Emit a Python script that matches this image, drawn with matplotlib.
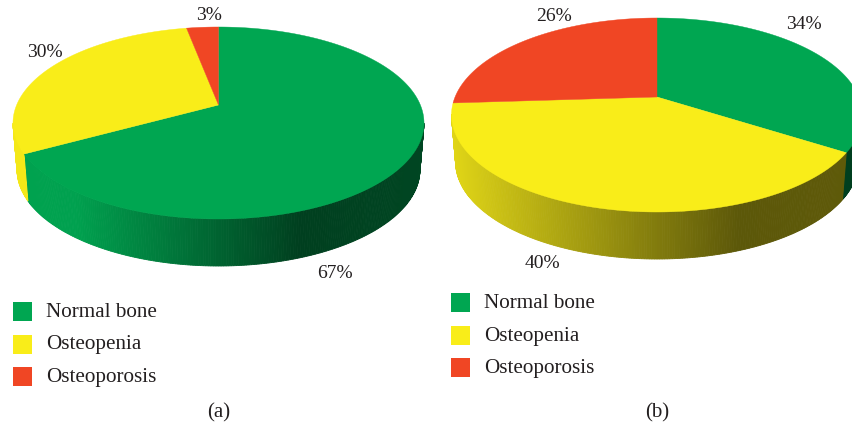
#!/usr/bin/env python3
"""Bone density pies for two groups, (a) and (b), drawn as tilted 3D discs."""

import numpy as np
import matplotlib
matplotlib.use("Agg")
import matplotlib.pyplot as plt
from matplotlib.patches import Polygon, Rectangle

categories = ["Normal bone", "Osteopenia", "Osteoporosis"]
values_a = [67, 30, 3]
values_b = [34, 40, 26]
panel_names = ["(a)", "(b)"]

colors = ["#00a651", "#f9ed19", "#f04624"]
TEXT = "#231f20"
FONT = "Liberation Serif"


def project(theta, pie):
    # perspective of a tilted disc: the centre slides towards the far edge
    a = pie["shift"]
    u, v = np.sin(theta), np.cos(theta)
    den = 1 + a * v
    return u * np.sqrt(1 - a ** 2) / den, (v + a) / den


def shade(color, u, stops):
    rgb = np.array(matplotlib.colors.to_rgb(color))
    return tuple(rgb * np.interp(u, [-1, -0.7, 0.4, 1], stops))


def draw_pie(ax, values, pie):
    cx, cy, rx, ry, depth = pie["cx"], pie["cy"], pie["rx"], pie["ry"], pie["depth"]
    edges = np.cumsum([0] + values) / sum(values) * 2 * np.pi
    for i, value in enumerate(values):
        n = max(int(value * 6), 8)
        theta = np.linspace(edges[i], edges[i + 1], n + 1)
        u, v = project(theta, pie)
        x, y = cx + rx * u, cy - ry * v
        # rim, only the near half of the disc shows
        for j in range(n):
            if v[j] > 0 and v[j + 1] > 0:
                continue
            xb = cx + rx * pie["taper"] * u[j:j + 2]
            rim = np.column_stack([
                np.r_[x[j:j + 2], xb[::-1]],
                np.r_[y[j:j + 2], (y[j:j + 2] + depth)[::-1]],
            ])
            c = shade(colors[i], u[j:j + 2].mean(), pie["shade"])
            ax.add_patch(Polygon(rim, facecolor=c, edgecolor=c, lw=0.6, zorder=2))
        apex = [cx, cy - ry * pie["shift"]]
        top = np.vstack([apex, np.column_stack([x, y])])
        ax.add_patch(Polygon(top, facecolor=colors[i], edgecolor=colors[i], lw=0.3, zorder=3))


def draw_legend(ax, x, y, step):
    for i, name in enumerate(categories):
        ax.add_patch(Rectangle((x, y + i * step), 19, 19, facecolor=colors[i], edgecolor="none"))
        ax.text(x + 33, y + i * step + 10.5, name, family=FONT, fontsize=15.2,
                color=TEXT, va="center", ha="left")


def main():
    fig = plt.figure(figsize=(8.53, 4.28), dpi=100)
    ax = fig.add_axes([0, 0, 1, 1])
    ax.set_xlim(0, 853)
    ax.set_ylim(428, 0)
    ax.axis("off")

    pie_a = dict(cx=218.5, cy=123, rx=205.5, ry=96, depth=47, shift=0.1875,
                 taper=0.98, shade=[0.98, 0.97, 0.38, 0.42])
    pie_b = dict(cx=657, cy=115, rx=205.5, ry=97, depth=47, shift=0.1856,
                 taper=0.98, shade=[0.9, 0.78, 0.37, 0.38])
    draw_pie(ax, values_a, pie_a)
    draw_pie(ax, values_b, pie_b)

    label_pos_a = [(335, 273), (45, 52), (209, 15)]
    label_pos_b = [(804, 24), (542, 264), (554, 16)]
    for vals, positions in ((values_a, label_pos_a), (values_b, label_pos_b)):
        for value, (x, y) in zip(vals, positions):
            ax.text(x, y, f"{value}%", family=FONT, fontsize=14, color=TEXT,
                    ha="center", va="center")

    draw_legend(ax, 13, 302, 32.5)
    draw_legend(ax, 451.5, 293, 32.5)

    ax.text(219, 413, panel_names[0], family=FONT, fontsize=15, color=TEXT, ha="center", va="center")
    ax.text(657, 413, panel_names[1], family=FONT, fontsize=15, color=TEXT, ha="center", va="center")

    fig.savefig("out.png", dpi=100, facecolor="white")


if __name__ == "__main__":
    main()
